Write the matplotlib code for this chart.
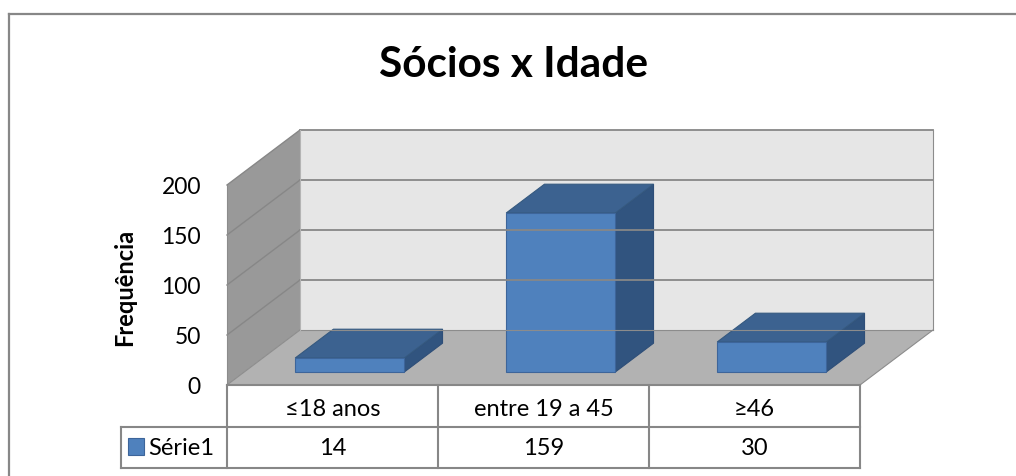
import numpy as np
import matplotlib.pyplot as plt
from matplotlib.patches import Polygon, Rectangle

plt.rcParams['font.family'] = ['Lato', 'DejaVu Sans']

title = 'Sócios x Idade'
ylabel = 'Frequência'
categories = ['≤18 anos', 'entre 19 a 45', '≥46']
values = [14, 159, 30]
series_name = 'Série1'
yticks = [0, 50, 100, 150, 200]

W, H = 1016, 476
fig = plt.figure(figsize=(W / 100, H / 100), dpi=100)
ax = fig.add_axes([0, 0, 1, 1])

# data units: 1 category = 211 px, 1 value unit = 1 px, origin at front floor corner
CAT_PX = 211
X0, Y0 = 227, 385
ax.set_xlim(-X0 / CAT_PX, (W - X0) / CAT_PX)
ax.set_ylim(-(H - Y0), Y0)
ax.axis('off')

DX, DY = 73 / CAT_PX, 55      # oblique offset for full depth
def proj(x, y, d):
    return (x + d * DX, y + d * DY)

def px_x(p):
    return (p - X0) / CAT_PX

n = len(categories)
ymax = yticks[-1]

# walls and floor
floor = [proj(0, 0, 0), proj(n, 0, 0), proj(n, 0, 1), proj(0, 0, 1)]
back = [proj(0, 0, 1), proj(n, 0, 1), proj(n, ymax, 1), proj(0, ymax, 1)]
side = [proj(0, 0, 0), proj(0, 0, 1), proj(0, ymax, 1), proj(0, ymax, 0)]
ax.add_patch(Polygon(back, closed=True, fc='#e6e6e6', ec='none'))
ax.add_patch(Polygon(side, closed=True, fc='#999999', ec='none'))
ax.add_patch(Polygon(floor, closed=True, fc='#b2b2b2', ec='none'))

grid_c = '#878787'
for v in yticks[1:]:
    a, b = proj(0, v, 1), proj(n, v, 1)
    ax.plot([a[0], b[0]], [a[1], b[1]], color=grid_c, lw=1.3)
    c = proj(0, v, 0)
    ax.plot([c[0], a[0]], [c[1], a[1]], color=grid_c, lw=1.0)
# wall edges
for p, q in [(proj(n, 0, 1), proj(n, ymax, 1)), (proj(0, 0, 0), proj(0, 0, 1)),
             (proj(0, 0, 1), proj(n, 0, 1)), (proj(n, 0, 0), proj(n, 0, 1)),
             (proj(0, 0, 0), proj(0, ymax, 0))]:
    ax.plot([p[0], q[0]], [p[1], q[1]], color='#8c8c8c', lw=0.8)
a, b = proj(0, 0, 1), proj(0, ymax, 1)
ax.plot([a[0], b[0]], [a[1], b[1]], color='#b4b4b4', lw=0.8)

# bars
bw, d0, d1 = 0.517, 0.236, 0.76
front_c, top_c, side_c, edge_c = '#4f81bd', '#3c6290', '#31547f', '#3d659a'
for i, v in enumerate(values):
    x0 = i + (1 - bw) / 2
    fx, fy = proj(x0, 0, d0)
    top = [proj(x0, v, d0), proj(x0 + bw, v, d0), proj(x0 + bw, v, d1), proj(x0, v, d1)]
    rside = [proj(x0 + bw, 0, d0), proj(x0 + bw, 0, d1), proj(x0 + bw, v, d1), proj(x0 + bw, v, d0)]
    ax.add_patch(Polygon(rside, closed=True, fc=side_c, ec='#2e4e78', lw=0.8))
    ax.add_patch(Polygon(top, closed=True, fc=top_c, ec='#35597f', lw=0.8))
    ax.add_patch(Rectangle((fx, fy), bw, v, fc=front_c, ec=edge_c, lw=0.8))

# y tick labels
for v in yticks:
    ax.text(px_x(201), proj(0, v, 0)[1] - 2, str(v), ha='right', va='center', fontsize=16.5)
ax.text(px_x(125), Y0 - 287, ylabel, rotation=90, ha='center', va='center',
        fontsize=17, fontweight='bold')

# data table
row_h = 41.5
leg_left = px_x(121)
tc = '#878787'
ax.plot([0, n], [0, 0], color=tc, lw=1.5)
ax.plot([leg_left, n], [-row_h, -row_h], color=tc, lw=1.5)
ax.plot([leg_left, n], [-2 * row_h, -2 * row_h], color=tc, lw=1.5)
for k in range(n + 1):
    ax.plot([k, k], [0, -2 * row_h], color=tc, lw=1.5)
ax.plot([leg_left, leg_left], [-row_h, -2 * row_h], color=tc, lw=1.5)
for i, (c, v) in enumerate(zip(categories, values)):
    ax.text(i + 0.5, -row_h / 2 - 4, c, ha='center', va='center', fontsize=17)
    ax.text(i + 0.5, -1.5 * row_h - 1, str(v), ha='center', va='center', fontsize=17)
ax.add_patch(Rectangle((px_x(128), -70), 16 / CAT_PX, 17, fc=front_c, ec='#3d659a', lw=0.8))
ax.text(px_x(148), -1.5 * row_h - 1, series_name, ha='left', va='center', fontsize=17)

# title
ax.text(px_x(514), Y0 - 77, title, ha='center', va='baseline', fontsize=30.5, fontweight='bold')

# chart frame (cut by image edges at right/bottom)
ax.plot([px_x(9), px_x(9)], [Y0 - 14, -(H - Y0)], color='#878787', lw=1.6, clip_on=False)
ax.plot([px_x(9), px_x(W)], [Y0 - 14, Y0 - 14], color='#878787', lw=1.6, clip_on=False)

fig.savefig('out.png', dpi=100)
